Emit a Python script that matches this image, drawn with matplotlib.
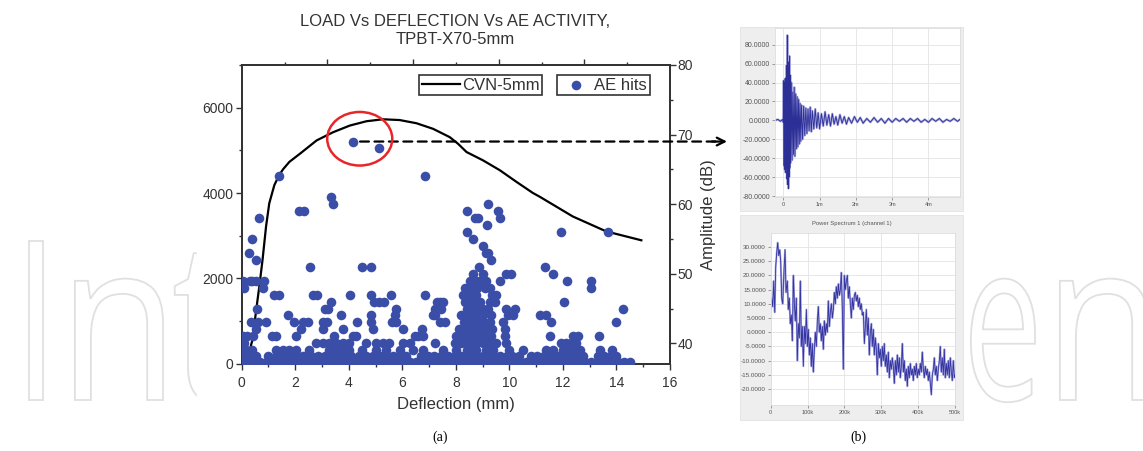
import matplotlib
matplotlib.use('Agg')
import matplotlib.pyplot as plt
from matplotlib.patches import Ellipse, Rectangle, PathPatch
from matplotlib.textpath import TextPath
from matplotlib.font_manager import FontProperties
from matplotlib.transforms import Affine2D
from matplotlib.ticker import MultipleLocator, NullFormatter, FixedLocator

plt.rcParams['font.family'] = ['Liberation Sans', 'DejaVu Sans']

# load vs deflection curve (CVN-5mm)
curve_defl = [0.17, 0.41, 0.53, 0.66, 0.78, 0.91, 1.03, 1.22, 1.40, 1.55, 1.78, 2.18, 2.80, 3.42,
              4.04, 4.66, 5.28, 5.90, 6.53, 7.15, 7.77, 8.08, 8.40, 9.01, 9.64, 10.26, 10.88,
              11.13, 12.37, 13.62, 14.93]
curve_load = [0, 581, 1202, 1822, 2442, 3217, 3760, 4186, 4419, 4560, 4729, 4923, 5233, 5426,
              5581, 5682, 5728, 5710, 5635, 5504, 5310, 5155, 4960, 4767, 4535, 4263, 4000,
              3914, 3450, 3100, 2892]

# AE hits: deflection values per amplitude level (dB)
hit_levels = [37.3, 38.2, 39, 40, 41, 42, 43, 44, 45, 46, 47, 48, 49, 50, 51, 52, 53, 54, 55,
              56, 57, 58, 59, 60, 61, 64, 68, 69]
hits_37 = [0.0, 0.22, 0.46, 0.7, 0.93, 1.18, 1.42, 1.66, 1.9, 2.15, 2.38, 2.62, 2.88, 3.1, 3.35,
           3.6, 3.84, 4.08, 4.32, 4.57, 4.8, 5.05, 5.3, 5.53, 5.78, 6.02, 6.27, 6.5, 6.75, 7.0,
           7.24, 7.48, 7.72, 7.97, 8.2, 8.45, 8.7, 8.93, 9.17, 9.42, 9.66, 9.9, 10.15, 10.4,
           10.63, 10.88, 11.12, 11.36, 11.6, 11.85, 12.1, 12.33, 12.58, 12.82, 13.06, 13.3,
           13.55, 13.8, 14.04, 14.28, 14.5]
hits_38 = [0.05, 0.3, 0.55, 1.0, 1.3, 1.55, 1.8, 2.05, 2.3, 2.6, 2.85, 3.1, 3.35, 3.6, 3.85, 4.1,
           4.4, 4.65, 4.9, 5.15, 5.4, 5.65, 5.9, 6.15, 6.7, 6.95, 7.2, 7.45, 7.7, 7.95, 8.2, 8.4,
           8.6, 8.8, 9.0, 9.2, 9.4, 9.65, 9.9, 10.1, 10.35, 10.8, 11.05, 11.3, 11.55, 11.8,
           12.05, 12.3, 12.5, 12.75, 13.3, 13.55, 13.8, 14.0]
hits_39 = [0.0, 0.15, 0.4, 1.28, 1.53, 1.78, 2.03, 2.52, 3.27, 3.52, 3.77, 4.01, 4.51, 5.01, 5.38,
           5.91, 6.4, 6.78, 7.52, 8.02, 8.4, 8.6, 8.77, 9.14, 9.39, 10.0, 10.5, 11.38, 11.63,
           12.0, 12.19, 12.37, 12.62, 13.37, 13.84]
hits_40 = [0.0, 0.1, 2.77, 3.02, 3.27, 3.52, 3.77, 4.01, 4.64, 5.01, 5.26, 5.51, 6.03, 6.28, 7.21,
           7.96, 8.2, 8.4, 8.6, 8.77, 9.0, 9.14, 9.3, 9.51, 9.89, 11.94, 12.13, 12.31, 12.5]
hits_41 = [0.05, 0.18, 0.43, 1.13, 1.28, 2.03, 3.46, 4.14, 4.27, 6.47, 6.6, 6.78, 8.02, 8.3, 8.55,
           8.8, 9.05, 9.3, 9.83, 11.5, 12.37, 12.56, 13.34]
hits_42 = [0.53, 2.21, 3.05, 3.77, 4.89, 6.03, 6.72, 8.1, 8.35, 8.6, 8.85, 9.1, 9.35, 9.83]
hits_43 = [0.35, 0.62, 0.91, 1.96, 2.28, 2.46, 3.05, 3.17, 4.3, 4.82, 5.63, 5.78, 7.4, 7.59, 8.3,
           8.52, 8.77, 9.01, 9.26, 9.76, 11.57, 13.97]
hits_44 = [1.72, 3.7, 4.82, 5.72, 7.15, 7.21, 8.2, 8.4, 8.6, 8.75, 9.0, 9.3, 9.95, 10.14, 11.13,
           11.38]
hits_45 = [0.58, 3.11, 3.21, 5.78, 7.21, 7.46, 8.4, 8.55, 8.77, 9.01, 9.2, 9.89, 10.2, 14.24]
hits_46 = [3.33, 4.96, 5.13, 5.32, 7.3, 7.4, 7.51, 8.35, 8.52, 8.7, 8.89, 9.26, 9.45, 12.03]
hits_47 = [1.22, 1.4, 2.67, 2.8, 4.05, 4.82, 5.57, 6.84, 8.27, 8.45, 8.6, 8.77, 9.35, 9.51]
hits_48 = [0.1, 0.78, 8.33, 8.5, 8.64, 8.8, 9.08, 9.26, 13.06]
hits_49 = [0.04, 0.31, 0.38, 0.55, 0.84, 8.52, 8.75, 8.9, 9.14, 9.64, 12.15, 13.06]
hits_50 = [8.64, 9.01, 9.89, 10.07, 11.63]
hits_51 = [2.55, 4.49, 4.82, 8.87, 11.34]
hits_52 = [0.53, 9.33]
hits_53 = [0.28, 9.14, 9.2]
hits_54 = [9.01]
hits_55 = [0.38, 8.64]
hits_56 = [8.4, 11.94, 13.68]
hits_57 = [9.18]
hits_58 = [0.66, 8.7, 8.83, 9.64]
hits_59 = [2.15, 2.31, 8.4, 9.57]
hits_60 = [3.42, 9.2]
hits_61 = [3.33]
hits_64 = [1.40, 6.84]
hits_68 = [5.12]
hits_69 = [4.14]
hit_rows = [hits_37, hits_38, hits_39, hits_40, hits_41, hits_42, hits_43, hits_44, hits_45,
            hits_46, hits_47, hits_48, hits_49, hits_50, hits_51, hits_52, hits_53, hits_54,
            hits_55, hits_56, hits_57, hits_58, hits_59, hits_60, hits_61, hits_64, hits_68,
            hits_69]

# (b) top: AE waveform, time in ms
wave_t = [-0.23, -0.15, -0.08, -0.02, 0.00, 0.01, 0.02, 0.03, 0.04, 0.05,
          0.06, 0.07, 0.08, 0.09, 0.10, 0.11, 0.12, 0.13, 0.14, 0.15,
          0.16, 0.17, 0.18, 0.19, 0.20, 0.22, 0.24, 0.26, 0.28, 0.30,
          0.32, 0.34, 0.36, 0.38, 0.40, 0.42, 0.44, 0.46, 0.48, 0.50,
          0.53, 0.56, 0.59, 0.62, 0.65, 0.68, 0.71, 0.74, 0.77, 0.80,
          0.84, 0.88, 0.92, 0.96, 1.00, 1.05, 1.10, 1.15, 1.20, 1.25,
          1.30, 1.35, 1.40, 1.45, 1.50, 1.56, 1.62, 1.68, 1.74, 1.80,
          1.88, 1.96, 2.04, 2.12, 2.20, 2.30, 2.40, 2.50, 2.60, 2.70,
          2.80, 2.90, 3.00, 3.10, 3.20, 3.30, 3.40, 3.50, 3.60, 3.70,
          3.80, 3.90, 4.00, 4.10, 4.20, 4.30, 4.40, 4.50, 4.60, 4.70,
          4.80, 4.87]
wave_v = [0, 1, -1, 1, -2, 42, -48, 40, -52, 44,
          -55, 45, -50, 58, -62, 90, -68, 62, -72, 55,
          -60, 68, -50, 48, -45, 40, -42, 30, -36, 35,
          -38, 28, -30, 25, -28, 22, -25, 18, -22, 16,
          -20, 15, -16, 13, -14, 12, -11, 14, -12, 10,
          -9, 12, -8, 8, -9, 7, -6, 9, -5, 6,
          -6, 7, -4, 4, -5, 6, -3, 4, -4, 3,
          -3, 4, -2, 3, -3, 2, -2, 3, -2, 2,
          -3, 2, -2, 2, -1, 2, -2, 2, -1, 2,
          -2, 1, -2, 2, -1, 2, -2, 1, -1, 2,
          -1, 1]

# (b) bottom: power spectrum, frequency in kHz
spec_f = [0.0, 2.7, 5.4, 8.1, 10.9, 13.6, 16.3, 19.0, 21.7, 24.4,
          27.1, 29.8, 32.6, 36.2, 38.9, 41.6, 45.2, 47.9, 50.6, 53.3,
          56.1, 58.8, 61.5, 64.2, 66.9, 69.6, 72.3, 75.0, 77.8, 80.5,
          83.2, 85.9, 88.6, 91.3, 94.0, 96.8, 99.5, 102.2, 104.9, 107.6,
          110.3, 113.0, 115.7, 118.5, 121.2, 123.9, 126.6, 129.3, 132.0, 134.7,
          137.4, 140.2, 142.9, 145.6, 148.3, 151.0, 153.7, 156.4, 159.1, 161.9,
          164.6, 167.3, 170.0, 172.7, 175.4, 178.1, 180.8, 183.6, 186.3, 189.0,
          191.7, 194.4, 197.1, 199.8, 202.5, 205.3, 208.0, 210.7, 213.4, 216.1,
          218.8, 221.5, 224.2, 227.0, 229.7, 232.4, 235.1, 237.8, 240.5, 243.2,
          245.9, 248.7, 251.4, 254.1, 256.8, 259.5, 262.2, 264.9, 267.6, 270.4,
          273.1, 275.8, 278.5, 281.2, 283.9, 286.6, 289.3, 292.1, 294.8, 297.5,
          300.2, 302.9, 305.6, 308.3, 311.0, 313.8, 316.5, 319.2, 321.9, 324.6,
          327.3, 330.0, 332.7, 335.5, 338.2, 340.9, 343.6, 346.3, 349.0, 351.7,
          354.4, 357.2, 359.9, 362.6, 365.3, 368.0, 370.7, 373.4, 376.1, 378.9,
          381.6, 384.3, 387.0, 389.7, 392.4, 395.1, 397.8, 400.6, 403.3, 406.0,
          408.7, 411.4, 414.1, 416.8, 419.5, 422.3, 425.0, 427.7, 430.4, 433.1,
          435.8, 438.5, 441.2, 444.0, 446.7, 449.4, 452.1, 454.8, 457.5, 460.2,
          462.9, 465.7, 468.4, 471.1, 473.8, 476.5, 479.2, 481.9, 484.6, 487.4,
          490.1, 492.8, 495.5, 498.2, 500.0]
spec_db = [8, 12, 9, 18, 7, 23, 28, 31.5, 27, 29,
           25, 12, 10, 22, 29, 14, 18, 8, 12, 3,
           6, -3, 20, 10, 4, 12, -10, 3, -2, 18,
           -5, 2, -12, 2, -4, 8, -5, 1, -8, -2,
           -12, -4, -14, -6, 0, -5, 4, 9, 0, 3,
           -3, 2, -6, 4, -1, 3, 0, 11, 2, 7,
           10, 5, 8, 14, 10, 16, 12, 17, 13, 15,
           21, 8, -13, 20, 15, 18, 20, 12, 16, 10,
           5, 12, 8, 13, 14, 11, 13, 9, 12, 8,
           10, 6, 7, -4, 2, 8, -1, 5, -8, 0,
           3, -5, 1, -8, -2, -6, -15, -4, -9, -6,
           -12, -5, -10, -4, -12, -8, -14, -7, -16, -10,
           -13, -9, -12, -18, -10, -15, -8, -14, -9, -16,
           -12, -4, -14, -10, -17, -13, -19, -12, -16, -11,
           -15, -13, -17, -12, -15, -11, -16, -13, -15, -11,
           -14, -7, -13, -16, -12, -15, -13, -17, -14, -18,
           -22, -15, -13, -9, -15, -12, -17, -13, -10, -5,
           -14, -9, -15, -6, -16, -11, -15, -10, -16, -9,
           -14, -17, -10, -16, -15]

# watermark letters and the pixel span each one covers
wm_letters = ['I', 'n', 't', 'e', 'n']
wm_left = [12, 58, 172, 963, 1043]
wm_right = [43, 163, 230, 1035, 1148]

W, H = 1143, 451
TXT = '#333333'


def px_box(x0, y0, x1, y1):
    return [x0 / W, 1 - y1 / H, (x1 - x0) / W, (y1 - y0) / H]


fig = plt.figure(figsize=(W / 100, H / 100), dpi=100)

# background layer: watermark, white cover of panel (a), grey frames of panel (b)
bg = fig.add_axes([0, 0, 1, 1], zorder=-1)
bg.set_xlim(0, W)
bg.set_ylim(H, 0)
bg.axis('off')

wm_font = FontProperties(family=['Open Sans', 'DejaVu Sans'])
cap = TextPath((0, 0), 'I', size=100, prop=wm_font).vertices[:, 1].max()
sy = 159.0 / cap
for ch, x0, x1 in zip(wm_letters, wm_left, wm_right):
    tp = TextPath((0, 0), ch, size=100, prop=wm_font)
    xs = tp.vertices[:, 0]
    sx = (x1 - x0) / (xs.max() - xs.min())
    tr = Affine2D().translate(-xs.min(), 0).scale(sx, -sy).translate(x0, 400)
    bg.add_patch(PathPatch(tr.transform_path(tp), fc='none', ec='#e0e0e0', lw=1.3, zorder=1))

bg.add_patch(Rectangle((197, 0), 533, H, color='white', zorder=2))
bg.add_patch(Rectangle((740, 27), 223, 184, fc='#eeeeee', ec='#e2e2e2', lw=0.6, zorder=3))
bg.add_patch(Rectangle((740, 215), 223, 205, fc='#eeeeee', ec='#e2e2e2', lw=0.6, zorder=3))
bg.text(455, 22, 'LOAD Vs DEFLECTION Vs AE ACTIVITY,', fontsize=12, color=TXT,
        ha='center', va='center')
bg.text(455, 40, 'TPBT-X70-5mm', fontsize=12, color=TXT, ha='center', va='center')
bg.text(852, 224, 'Power Spectrum 1 (channel 1)', fontsize=4.2, color='#555555',
        ha='center', va='center', zorder=4)
bg.text(440, 437, '(a)', fontsize=10, family='Liberation Serif', ha='center', va='center')
bg.text(858, 437, '(b)', fontsize=10, family='Liberation Serif', ha='center', va='center')

# (a) main chart
ax = fig.add_axes(px_box(241.7, 65, 670, 363.7))
ax2 = ax.twinx()
line, = ax.plot(curve_defl, curve_load, color='black', lw=1.6, label='CVN-5mm')

hit_defl = []
hit_amp = []
for level, row in zip(hit_levels, hit_rows):
    hit_defl += row
    hit_amp += [level] * len(row)
sc = ax2.scatter(hit_defl, hit_amp, s=48, color='#3a4ea8', lw=0, label='AE hits', zorder=3)

ax.set_xlim(0, 16)
ax.set_ylim(0, 7000)
ax2.set_ylim(37.07, 80)
ax.set_xticks(range(0, 17, 2))
ax.xaxis.set_minor_locator(MultipleLocator(1))
ax.set_yticks([0, 2000, 4000, 6000])
ax.yaxis.set_minor_locator(MultipleLocator(1000))
ax2.set_yticks([40, 50, 60, 70, 80])
ax2.yaxis.set_minor_locator(MultipleLocator(5))
for a in (ax, ax2):
    a.tick_params(which='both', direction='out', color=TXT, width=1, labelsize=10,
                  labelcolor=TXT)
    a.tick_params(which='major', length=4)
    a.tick_params(which='minor', length=2.5)
    for s in a.spines.values():
        s.set_linewidth(1.3)
        s.set_color(TXT)
ax.tick_params(axis='x', pad=5)
ax.tick_params(axis='y', pad=2)
ax2.tick_params(axis='y', pad=1.5)

top = ax.secondary_xaxis('top', functions=(lambda x: x * 1.25, lambda x: x / 1.25))
top.xaxis.set_major_locator(FixedLocator([4, 8, 12, 16]))
top.xaxis.set_minor_locator(FixedLocator([2, 6, 10, 14, 18]))
top.xaxis.set_major_formatter(NullFormatter())
top.tick_params(which='both', direction='out', color=TXT, width=1)
top.tick_params(which='major', length=4)
top.tick_params(which='minor', length=2.5)
top.spines['top'].set_linewidth(1.3)
top.spines['top'].set_color(TXT)

ax.set_xlabel('Deflection (mm)', fontsize=12, color=TXT)
ax.xaxis.set_label_coords(0.5, -0.112)
ax2.set_ylabel('Amplitude (dB)', fontsize=12, color=TXT)
ax2.yaxis.set_label_coords(1.072, 0.5)

leg_kw = dict(loc='upper left', bbox_transform=fig.transFigure, fontsize=12, frameon=True,
              fancybox=False, edgecolor=TXT, framealpha=1, borderpad=0.15, borderaxespad=0,
              labelcolor=TXT, scatterpoints=1)
leg1 = ax2.legend(handles=[line], bbox_to_anchor=(419 / W, 1 - 75 / H), handlelength=2.3,
                  handletextpad=0.15, **leg_kw)
leg1.get_frame().set_linewidth(1.2)
ax2.add_artist(leg1)
leg2 = ax2.legend(handles=[sc], bbox_to_anchor=(557 / W, 1 - 75 / H), handlelength=2.0,
                  handletextpad=0.1, **leg_kw)
leg2.get_frame().set_linewidth(1.2)

ax2.add_patch(Ellipse((4.41, 69.4), 2.43, 7.7, fill=False, ec='#e8262a', lw=1.8, zorder=4,
                      clip_on=False))
ax2.annotate('', xy=(718 / W, 69.0), xycoords=('figure fraction', 'data'),
             xytext=(4.42, 69.0), textcoords='data',
             arrowprops=dict(arrowstyle='-', lw=1.6, ls=(0, (4, 2.5)), color='black',
                             shrinkA=0, shrinkB=0))
ax2.annotate('', xy=(727 / W, 69.0), xycoords=('figure fraction', 'data'),
             xytext=(712 / W, 69.0), textcoords=('figure fraction', 'data'),
             arrowprops=dict(arrowstyle='->', lw=1.6, color='black', shrinkA=0, shrinkB=0,
                             mutation_scale=14))


# (b) shared style of the two small panels
def small_panel(axp):
    axp.grid(True, color='#e3e3e3', lw=0.6)
    axp.set_axisbelow(True)
    for s in axp.spines.values():
        s.set_color('#dddddd')
        s.set_linewidth(0.6)
    axp.tick_params(which='both', direction='out', length=2.5, width=0.5, color='#777777',
                    labelcolor='#555555', pad=1)


wx = fig.add_axes(px_box(775, 27.5, 960, 196.7), zorder=1)
wx.plot(wave_t, wave_v, color='#a3a3de', lw=1.6)
wx.plot(wave_t, wave_v, color='#2c2f96', lw=0.6)
wx.set_xlim(-0.23, 4.87)
wx.set_ylim(-80.7, 98.2)
wx.set_yticks([-80, -60, -40, -20, 0, 20, 40, 60, 80])
wx.set_yticklabels(['%.4f' % v for v in [-80, -60, -40, -20, 0, 20, 40, 60, 80]])
wx.set_xticks([0, 1, 2, 3, 4])
wx.set_xticklabels(['0', '1m', '2m', '3m', '4m'])
small_panel(wx)
wx.tick_params(axis='y', labelsize=5)
wx.tick_params(axis='x', labelsize=4)

sx = fig.add_axes(px_box(770.7, 233.3, 955, 405), zorder=1)
sx.plot(spec_f, spec_db, color='#a9a9e2', lw=1.4)
sx.plot(spec_f, spec_db, color='#3535a0', lw=0.6)
sx.set_xlim(0, 500)
sx.set_ylim(-25.6, 34.8)
sx.set_yticks([-20, -15, -10, -5, 0, 5, 10, 15, 20, 25, 30])
sx.set_yticklabels(['%.4f' % v for v in [-20, -15, -10, -5, 0, 5, 10, 15, 20, 25, 30]])
sx.set_xticks([0, 100, 200, 300, 400, 500])
sx.set_xticklabels(['0', '100k', '200k', '300k', '400k', '500k'])
small_panel(sx)
sx.tick_params(axis='y', labelsize=4.5)
sx.tick_params(axis='x', labelsize=4)

fig.savefig('out.png', dpi=100)
